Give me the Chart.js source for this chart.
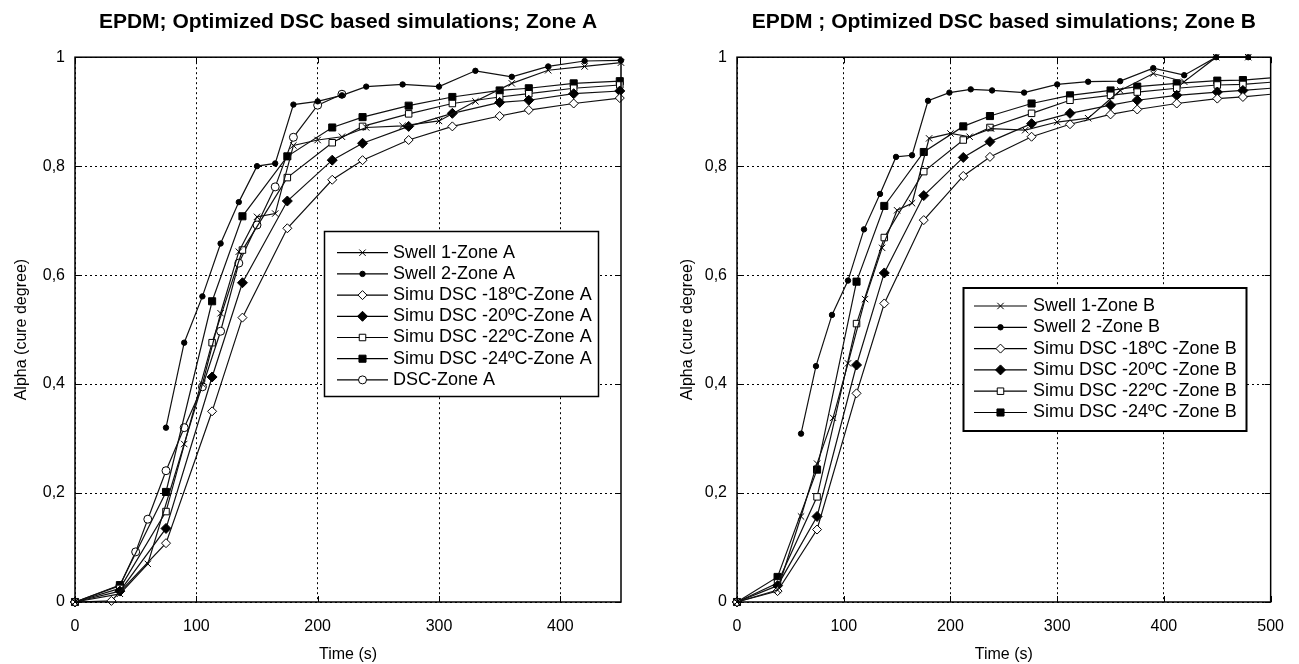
<!DOCTYPE html>
<html>
<head>
<meta charset="utf-8">
<script src="https://cdn.jsdelivr.net/npm/chart.js@4.4.0/dist/chart.umd.min.js"></script>
<style>
  body { margin: 0; background: #fff; }
  .panel { position: absolute; top: 0; }
  #panelA { left: 0; }
  #panelB { left: 650px; }
</style>
</head>
<body>
<div class="panel" id="panelA"><canvas id="chartA" width="650" height="664"></canvas></div>
<div class="panel" id="panelB"><canvas id="chartB" width="649" height="664"></canvas></div>
<script>
// ---- Zone A (gauche) ----
const timeSwell1A = [0, 37, 60, 90, 105, 120, 135, 150, 165, 180, 200, 220, 240, 270, 300, 330, 360, 390, 420, 450];
const swell1A     = [0, 0.015, 0.07, 0.29, 0.40, 0.53, 0.643, 0.707, 0.713, 0.838, 0.848, 0.854, 0.871, 0.874, 0.883, 0.919, 0.952, 0.976, 0.983, 0.990];
const timeSwell2A = [75, 90, 105, 120, 135, 150, 165, 180, 200, 220, 240, 270, 300, 330, 360, 390, 420, 450];
const swell2A     = [0.32, 0.476, 0.561, 0.658, 0.734, 0.80, 0.805, 0.913, 0.919, 0.930, 0.946, 0.950, 0.946, 0.975, 0.964, 0.983, 0.993, 0.994];
const timeSimu18A = [0, 30, 75, 113, 138, 175, 212, 237, 275, 311, 350, 374, 411, 449];
const timeSimuA   = [0, 37, 75, 113, 138, 175, 212, 237, 275, 311, 350, 374, 411, 449];
const simu18A     = [0, 0.002, 0.108, 0.350, 0.522, 0.686, 0.775, 0.811, 0.848, 0.873, 0.892, 0.903, 0.915, 0.925];
const simu20A     = [0, 0.020, 0.135, 0.413, 0.586, 0.736, 0.811, 0.842, 0.873, 0.897, 0.917, 0.921, 0.933, 0.938];
const simu22A     = [0, 0.025, 0.166, 0.476, 0.646, 0.779, 0.843, 0.873, 0.896, 0.915, 0.927, 0.933, 0.943, 0.949];
const simu24A     = [0, 0.031, 0.202, 0.552, 0.708, 0.818, 0.871, 0.890, 0.911, 0.927, 0.939, 0.943, 0.952, 0.956];
const timeDscA    = [0, 37, 50, 60, 75, 90, 105, 120, 135, 150, 165, 180, 200, 220];
const dscA        = [0, 0.03, 0.092, 0.152, 0.241, 0.32, 0.395, 0.497, 0.622, 0.692, 0.762, 0.853, 0.912, 0.932];

// ---- Zone B (droite) ----
const timeSwell1B = [0, 38, 60, 75, 90, 104, 120, 136, 150, 164, 180, 200, 218, 238, 270, 300, 329, 359, 390, 419, 449, 479];
const swell1B     = [0, 0.022, 0.157, 0.254, 0.338, 0.438, 0.556, 0.650, 0.719, 0.732, 0.851, 0.860, 0.854, 0.869, 0.866, 0.881, 0.888, 0.939, 0.970, 0.955, 1.0, 1.0];
const timeSwell2B = [60, 74, 89, 104, 119, 134, 149, 164, 179, 199, 219, 239, 269, 300, 329, 359, 390, 419, 449, 479];
const swell2B     = [0.309, 0.433, 0.527, 0.590, 0.684, 0.749, 0.817, 0.820, 0.920, 0.935, 0.941, 0.939, 0.935, 0.950, 0.955, 0.956, 0.980, 0.967, 1.0, 1.0];
const timeSimuB   = [0, 38, 75, 112, 138, 175, 212, 237, 276, 312, 350, 375, 412, 450, 474, 500];
const simu18B     = [0, 0.020, 0.133, 0.383, 0.548, 0.701, 0.782, 0.817, 0.854, 0.877, 0.895, 0.904, 0.915, 0.924, 0.927, 0.932];
const simu20B     = [0, 0.030, 0.157, 0.435, 0.604, 0.746, 0.816, 0.845, 0.878, 0.897, 0.912, 0.921, 0.930, 0.936, 0.939, 0.943];
const simu22B     = [0, 0.035, 0.193, 0.511, 0.669, 0.790, 0.848, 0.871, 0.897, 0.921, 0.930, 0.936, 0.943, 0.949, 0.950, 0.954];
const simu24B     = [0, 0.046, 0.243, 0.588, 0.727, 0.826, 0.873, 0.892, 0.915, 0.930, 0.939, 0.946, 0.952, 0.957, 0.958, 0.962];

// ticks
const yTicks = [0, 0.2, 0.4, 0.6, 0.8, 1];

const FONT = 'Arial, "Liberation Sans", sans-serif';

// Estilos de marcadores (estilo Matlab)
const markers = {
  swell1: { pointStyle: 'crossRot', radius: 4.5, fill: '#000' },
  swell2: { pointStyle: 'circle',   radius: 2.7, fill: '#000' },
  s18:    { pointStyle: 'rectRot',  radius: 4.5, fill: '#fff' },
  s20:    { pointStyle: 'rectRot',  radius: 5,   fill: '#000' },
  s22:    { pointStyle: 'rect',     radius: 4.6, fill: '#fff' },
  s24:    { pointStyle: 'rect',     radius: 5,   fill: '#000' },
  dsc:    { pointStyle: 'circle',   radius: 4,   fill: '#fff' }
};

function serie(label, xs, ys, m, xMax) {
  return {
    label: label,
    data: xs.map((x, i) => ({ x: x, y: ys[i] })),
    showLine: true,
    borderColor: '#111',
    borderWidth: 1.2,
    tension: 0,
    clip: 7,
    pointStyle: m.pointStyle,
    pointRadius: ctx => (ctx.raw && ctx.raw.x >= xMax ? 0 : m.radius),
    pointHoverRadius: m.radius,
    pointBackgroundColor: m.fill,
    pointBorderColor: '#000',
    pointBorderWidth: 1,
    legendMarker: m
  };
}

// Marco, ticks hacia dentro y leyenda dibujada dentro del área
const matlabBox = {
  id: 'matlabBox',
  afterDatasetsDraw(chart, args, opts) {
    const ctx = chart.ctx;
    const a = chart.chartArea;
    const sx = chart.scales.x, sy = chart.scales.y;
    ctx.save();
    ctx.strokeStyle = '#000';
    ctx.lineWidth = 1;
    ctx.beginPath();
    sx.ticks.forEach(t => {
      if (t.value % 100 !== 0) return;
      const px = Math.round(sx.getPixelForValue(t.value)) + 0.5;
      ctx.moveTo(px, a.bottom); ctx.lineTo(px, a.bottom - 6);
      ctx.moveTo(px, a.top); ctx.lineTo(px, a.top + 6);
    });
    yTicks.forEach(v => {
      const py = Math.round(sy.getPixelForValue(v)) + 0.5;
      ctx.moveTo(a.left, py); ctx.lineTo(a.left + 6, py);
      ctx.moveTo(a.right, py); ctx.lineTo(a.right - 6, py);
    });
    ctx.stroke();
    ctx.lineWidth = 1.5;
    ctx.strokeRect(a.left, a.top, a.right - a.left, a.bottom - a.top);

    // leyenda
    const L = opts.legend;
    if (L) {
      ctx.fillStyle = '#fff';
      ctx.fillRect(L.x, L.y, L.w, L.h);
      ctx.lineWidth = L.border;
      ctx.strokeRect(L.x, L.y, L.w, L.h);
      ctx.font = '18px ' + FONT;
      ctx.textBaseline = 'middle';
      ctx.textAlign = 'left';
      chart.data.datasets.forEach((ds, i) => {
        const yy = L.firstY + i * L.step;
        ctx.strokeStyle = '#000';
        ctx.lineWidth = 1.2;
        ctx.beginPath();
        ctx.moveTo(L.lineX0, yy); ctx.lineTo(L.lineX1, yy);
        ctx.stroke();
        const m = ds.legendMarker;
        ctx.fillStyle = m.fill;
        ctx.strokeStyle = '#000';
        ctx.lineWidth = 1;
        Chart.helpers.drawPoint(ctx, { pointStyle: m.pointStyle, radius: m.radius, rotation: 0, borderWidth: 1 },
          (L.lineX0 + L.lineX1) / 2, yy);
        ctx.fillStyle = '#000';
        ctx.fillText(ds.label, L.textX, yy);
      });
    }
    ctx.restore();
  }
};

function yLabel(v) {
  if (v === 0) return '0';
  if (v === 1) return '1';
  return (Math.round(v * 10) / 10).toFixed(1).replace('.', ',');
}

function options(title, xMax, yAxisWidth, yTitlePad, padRight, legend) {
  return {
    responsive: false,
    animation: false,
    layout: { padding: { left: 0, right: padRight, top: 0, bottom: 0 } },
    plugins: {
      legend: { display: false },
      tooltip: { enabled: false },
      title: {
        display: true,
        text: title,
        fullSize: false,
        color: '#000',
        font: { family: FONT, size: 21, weight: 'bold' },
        padding: { top: 10, bottom: 22 }
      },
      matlabBox: { legend: legend }
    },
    scales: {
      x: {
        type: 'linear',
        min: 0,
        max: xMax,
        afterFit: s => { s.height = 62; },
        grid: { color: '#000', lineWidth: 1, drawTicks: false },
        border: { display: false, dash: [2, 3] },
        ticks: {
          stepSize: 100,
          autoSkip: false,
          maxRotation: 0,
          padding: 15,
          color: '#000',
          font: { family: FONT, size: 16 },
          callback: v => (v % 100 === 0 ? String(v) : null)
        },
        title: {
          display: true,
          text: 'Time (s)',
          color: '#000',
          font: { family: FONT, size: 16 },
          padding: { top: 0, bottom: 0 }
        }
      },
      y: {
        type: 'linear',
        min: 0,
        max: 1,
        afterFit: s => { s.width = yAxisWidth; },
        grid: { color: '#000', lineWidth: 1, drawTicks: false },
        border: { display: false, dash: [2, 3] },
        ticks: {
          stepSize: 0.2,
          padding: 10,
          color: '#000',
          font: { family: FONT, size: 16 },
          callback: v => yLabel(v)
        },
        title: {
          display: true,
          text: 'Alpha (cure degree)',
          color: '#000',
          font: { family: FONT, size: 16 },
          padding: { top: yTitlePad, bottom: 0 }
        }
      }
    }
  };
}

new Chart(document.getElementById('chartA'), {
  type: 'scatter',
  data: {
    datasets: [
      serie('Swell 1-Zone A', timeSwell1A, swell1A, markers.swell1, 9999),
      serie('Swell 2-Zone A', timeSwell2A, swell2A, markers.swell2, 9999),
      serie('Simu DSC -18ºC-Zone A', timeSimu18A, simu18A, markers.s18, 9999),
      serie('Simu DSC -20ºC-Zone A', timeSimuA, simu20A, markers.s20, 9999),
      serie('Simu DSC -22ºC-Zone A', timeSimuA, simu22A, markers.s22, 9999),
      serie('Simu DSC -24ºC-Zone A', timeSimuA, simu24A, markers.s24, 9999),
      serie('DSC-Zone A', timeDscA, dscA, markers.dsc, 9999)
    ]
  },
  options: options('EPDM; Optimized DSC based simulations; Zone A', 450, 75, 12, 29,
    { x: 324.5, y: 231.5, w: 274, h: 165, border: 1.5, firstY: 252.7, step: 21.2, lineX0: 337, lineX1: 388, textX: 393 }),
  plugins: [matlabBox]
});

new Chart(document.getElementById('chartB'), {
  type: 'scatter',
  data: {
    datasets: [
      serie('Swell 1-Zone B', timeSwell1B, swell1B, markers.swell1, 500),
      serie('Swell 2 -Zone B', timeSwell2B, swell2B, markers.swell2, 500),
      serie('Simu DSC -18ºC -Zone B', timeSimuB, simu18B, markers.s18, 500),
      serie('Simu DSC -20ºC -Zone B', timeSimuB, simu20B, markers.s20, 500),
      serie('Simu DSC -22ºC -Zone B', timeSimuB, simu22B, markers.s22, 500),
      serie('Simu DSC -24ºC -Zone B', timeSimuB, simu24B, markers.s24, 500)
    ]
  },
  options: options('EPDM ; Optimized DSC based simulations; Zone B', 500, 87, 28, 17,
    { x: 313.5, y: 288, w: 283, h: 143, border: 2, firstY: 306, step: 21.3, lineX0: 324, lineX1: 377, textX: 383 }),
  plugins: [matlabBox]
});
</script>
</body>
</html>
